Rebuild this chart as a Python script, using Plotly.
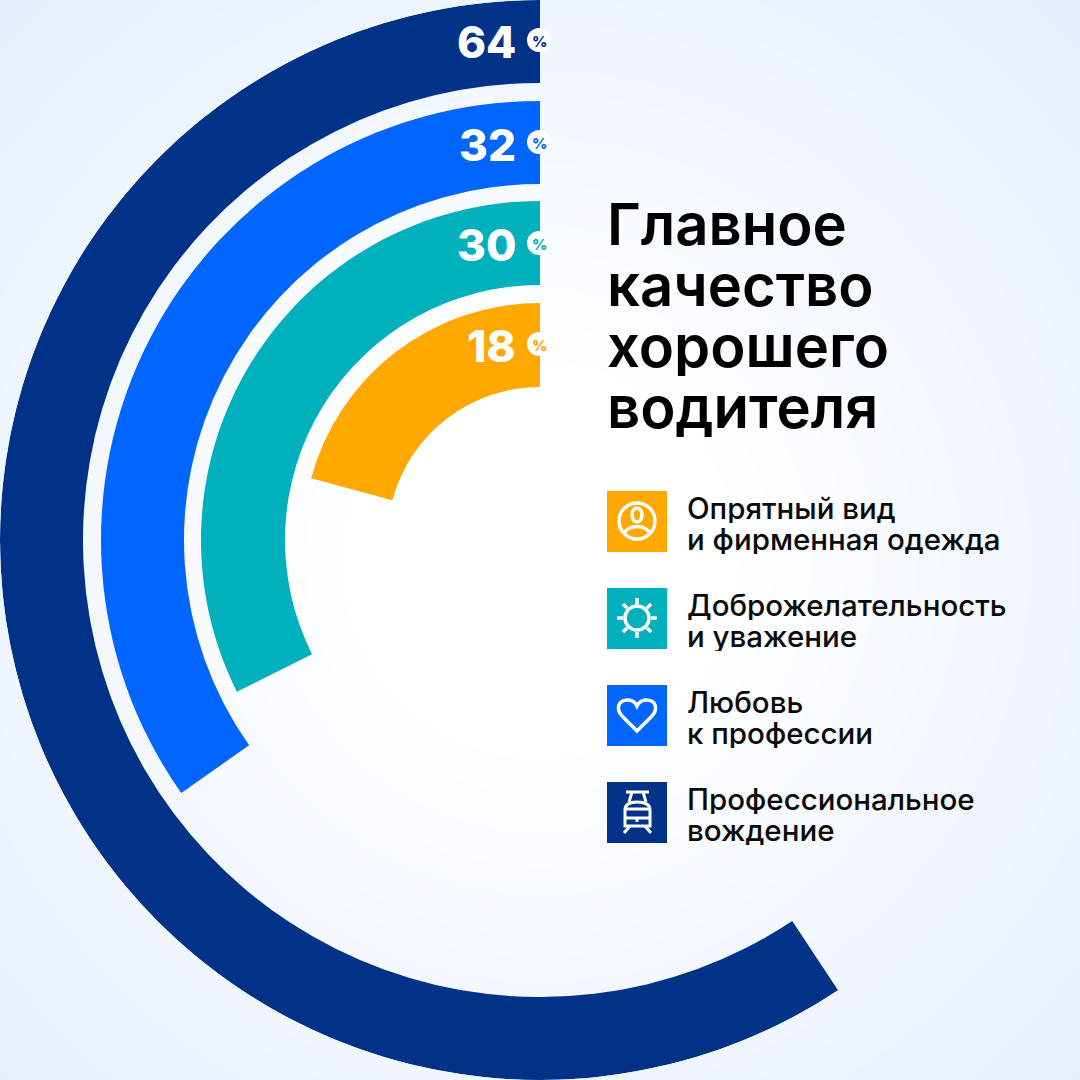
import numpy as np
import plotly.graph_objects as go

# данные
percents = [64, 32, 30, 18]
arc_degrees = [213.5, 125.2, 116.6, 74.9]
bar_colors = ['#003388', '#0066FF', '#00B0BD', '#FFA900']
legend_labels = [
    ('Опрятный вид', 'и фирменная одежда'),
    ('Доброжелательность', 'и уважение'),
    ('Любовь', 'к профессии'),
    ('Профессиональное', 'вождение'),
]
legend_colors = ['#FFA900', '#00B0BD', '#0066FF', '#003388']
title_lines = ['Главное', 'качество', 'хорошего', 'водителя']

SIZE = 1080
FONT = 'Inter'
ring_base = [457, 356, 255, 153]
ring_width = [83, 83, 84, 84]
label_y = [42, 145, 245, 346]
badge_y = [40, 142, 243, 344]
title_y = [224, 285, 346, 407]
legend_top = [491, 588, 685, 782]

# фон: радиальный градиент
grid = np.linspace(0, SIZE, 55)
gx, gy = np.meshgrid(grid, grid)
glow = np.clip((np.hypot(gx - 540, gy - 560) - 180) / 620, 0, 1)

fig = go.Figure()
fig.add_trace(go.Heatmap(x=grid, y=grid, z=glow, zmin=0, zmax=1, zsmooth='best', showscale=False,
                         colorscale=[[0, '#FFFFFF'], [1, '#E4EEFD']], hoverinfo='skip'))

# кольца
fig.add_trace(go.Barpolar(r=ring_width, base=ring_base, width=arc_degrees,
                          theta=[a / 2 for a in arc_degrees],
                          marker=dict(color=bar_colors, line_width=0), hoverinfo='skip'))

shapes = []
annotations = []


def add_text(x, y, text, size, color, weight=400, anchor='left', height=None):
    annotations.append(dict(x=x, y=y, xref='x', yref='y', text=text, showarrow=False, xanchor=anchor,
                            yanchor='middle', height=height, borderpad=0,
                            font=dict(family=FONT, size=size, color=color, weight=weight)))


def icon_line(path, width=3.5):
    shapes.append(dict(type='path', path=path, xref='x', yref='y', layer='above',
                       line=dict(color='white', width=width)))


def icon_circle(cx, cy, rx, ry=None):
    ry = rx if ry is None else ry
    shapes.append(dict(type='circle', xref='x', yref='y', x0=cx - rx, x1=cx + rx, y0=cy - ry, y1=cy + ry,
                       layer='above', line=dict(color='white', width=3.5)))


# подписи процентов
for pct, color, ly, by in zip(percents, bar_colors, label_y, badge_y):
    add_text(517, ly, str(pct), 44, 'white', 800, 'right')
    shapes.append(dict(type='circle', xref='x', yref='y', x0=527, x1=551, y0=by - 12, y1=by + 12,
                       fillcolor='white', line_width=0, layer='above'))
    add_text(539, by + 1, '%', 15, color, 800, 'center')

# заголовок
for line, ty in zip(title_lines, title_y):
    add_text(606, ty, line, 58, '#000000', 600, height=60)

# легенда
for (line1, line2), color, top in zip(legend_labels, legend_colors, legend_top):
    shapes.append(dict(type='rect', xref='x', yref='y', x0=607, x1=667, y0=top, y1=top + 61,
                       fillcolor=color, line_width=0, layer='above'))
    add_text(686, top + 16, line1, 29.5, '#0A0A0A', 500, height=31)
    add_text(686, top + 47, line2, 29.5, '#0A0A0A', 500, height=31)

# значки
icon_circle(637, 521, 18)
icon_circle(637, 515, 5, 7)
icon_line('M624 534 C628 524 646 524 650 534')

icon_circle(637, 618, 12)
for angle in np.deg2rad(np.arange(0, 360, 45)):
    icon_line('M%.1f %.1f L%.1f %.1f' % (637 + 14 * np.cos(angle), 618 + 14 * np.sin(angle),
                                         637 + 20 * np.cos(angle), 618 + 20 * np.sin(angle)))

icon_line('M637 731 L623 717 C615 709 618 700 628 700 C632 700 635 702 637 706 '
          'C639 702 642 700 646 700 C656 700 659 709 651 717 Z')

icon_line('M626 792 L649 792 M632 792 L629 802 M643 792 L646 802', 3)
icon_line('M625 826 L625 810 C625 804 630 802 637 802 C644 802 650 804 650 810 L650 826 Z', 3)
icon_line('M625 809 L650 809 M625 818 L650 818 M637 818 L637 822', 3)
icon_line('M630 826 L624 833 M645 826 L651 833', 3)

fig.update_layout(
    width=SIZE, height=SIZE, margin=dict(l=0, r=0, t=0, b=0), showlegend=False,
    paper_bgcolor='white', plot_bgcolor='white',
    xaxis=dict(range=[0, SIZE], visible=False, domain=[0, 1]),
    yaxis=dict(range=[SIZE, 0], visible=False, domain=[0, 1]),
    polar=dict(domain=dict(x=[0, 1], y=[0, 1]), bgcolor='rgba(0,0,0,0)',
               radialaxis=dict(range=[0, 540], visible=False),
               angularaxis=dict(direction='counterclockwise', rotation=90, visible=False)),
    shapes=shapes, annotations=annotations,
)
# убрать отступ страницы и панель
fig.write_html('out.html', config={'displayModeBar': False},
               post_script="document.body.style.margin='0';document.body.style.overflow='hidden';")
